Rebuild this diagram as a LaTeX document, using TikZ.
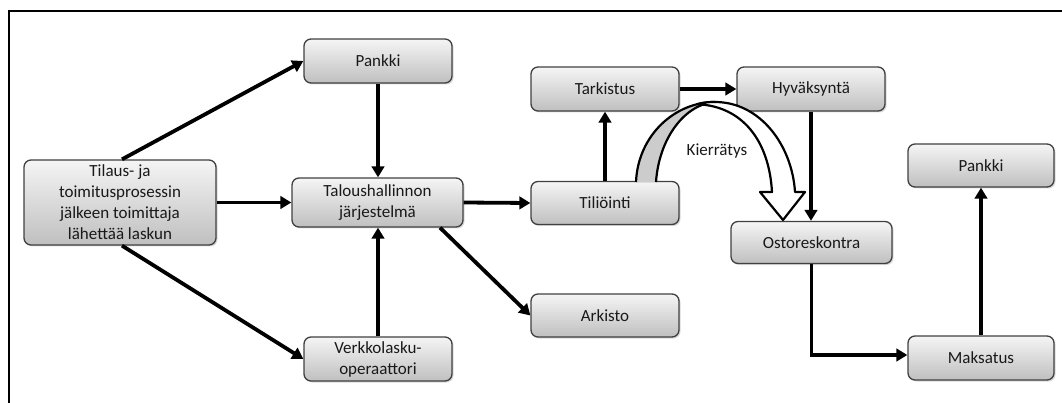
\documentclass[tikz,border=0pt]{standalone}
\usepackage{fontspec}
\setmainfont{Carlito}
\usetikzlibrary{arrows.meta,shadows}
\begin{document}
\begin{tikzpicture}[x=1pt,y=-1pt,
  box/.style={draw=black!75, line width=1.3pt, rounded corners=7pt,
    top color=black!4, bottom color=black!25,
    drop shadow={shadow xshift=1.5pt,shadow yshift=-1.5pt,opacity=0.3},
    align=center, inner sep=2pt, text=black!90,
    font=\fontsize{17}{21}\selectfont},
  conn/.style={line width=3.8pt, line join=miter,
    -{Triangle[length=11pt,width=12.5pt]}},
  ribbon/.style={line width=2.2pt, line join=round},
  lbl/.style={font=\fontsize{17}{21}\selectfont, text=black!90}]
\useasboundingbox (0,0) rectangle (1062,403);

% frame
\draw[line width=2.5pt] (1062,11) -- (9,11) -- (9,403);

% boxes
\node[box, minimum width=192pt, minimum height=85pt] (tilaus) at (120,202.5)
  {Tilaus- ja\\toimitusprosessin\\jälkeen toimittaja\\lähettää laskun};
\node[box, minimum width=148pt, minimum height=44pt] (pankkiA) at (378,61) {Pankki};
\node[box, minimum width=171pt, minimum height=49pt] (talous) at (377.5,202.5)
  {Taloushallinnon\\järjestelmä};
\node[box, minimum width=148pt, minimum height=44pt] (verkko) at (378,359)
  {Verkkolasku-\\operaattori};
\node[box, minimum width=148pt, minimum height=44pt] (tarkistus) at (605,89) {Tarkistus};
\node[box, minimum width=148pt, minimum height=43pt] (tilio) at (605,203) {Tiliöinti};
\node[box, minimum width=148pt, minimum height=43pt] (arkisto) at (605,315.5) {Arkisto};
\node[box, minimum width=148pt, minimum height=44pt] (hyv) at (811,89) {Hyväksyntä};
\node[box, minimum width=161pt, minimum height=42pt] (osto) at (811.5,242.5) {Ostoreskontra};
\node[box, minimum width=146pt, minimum height=43pt] (pankkiB) at (981,165.5) {Pankki};
\node[box, minimum width=146pt, minimum height=44pt] (maksatus) at (981,358) {Maksatus};

% connectors
\draw[conn] ([xshift=2pt]tilaus.north) -- (pankkiA.west);
\draw[conn] (tilaus.east) -- (talous.west);
\draw[conn] ([xshift=2pt]tilaus.south) -- (verkko.west);
\draw[conn] (pankkiA.south) -- (pankkiA.south |- talous.north);
\draw[conn] (verkko.north) -- (verkko.north |- talous.south);
\draw[conn] (talous.east) -- (tilio.west);
\draw[conn] ([xshift=62.5pt]talous.south) -- (arkisto.west);
\draw[conn] (tilio.north) -- (tarkistus.south);
\draw[conn] (tarkistus.east) -- (hyv.west);
\draw[conn] (hyv.south) -- (hyv.south |- osto.north);
\draw[conn] (osto.south) |- ([yshift=3pt]maksatus.west);
\draw[conn] (maksatus.north) -- (pankkiB.south);

% curved recycling arrow: shaded back side, then the white front band
\fill[black!20] (636,182) .. controls (638,135) and (675,102) .. (715,102)
  .. controls (685,104) and (659,138) .. (656,182) -- cycle;
\draw[ribbon] (636,182) .. controls (638,135) and (675,102) .. (715,102);
\draw[ribbon] (715,102) .. controls (685,104) and (659,138) .. (656,182);
\filldraw[ribbon, fill=white] (697,104.2) .. controls (704,102.2) and (709,102) .. (715,102)
  .. controls (760,102) and (792,145) .. (795,192) -- (805,192) -- (783,220)
  -- (760,192) -- (772,192) .. controls (769,140) and (742,106) .. (697,104.2) -- cycle;
\node[lbl] (kierr) at (717,151) {Kierrätys};
\end{tikzpicture}
\end{document}
